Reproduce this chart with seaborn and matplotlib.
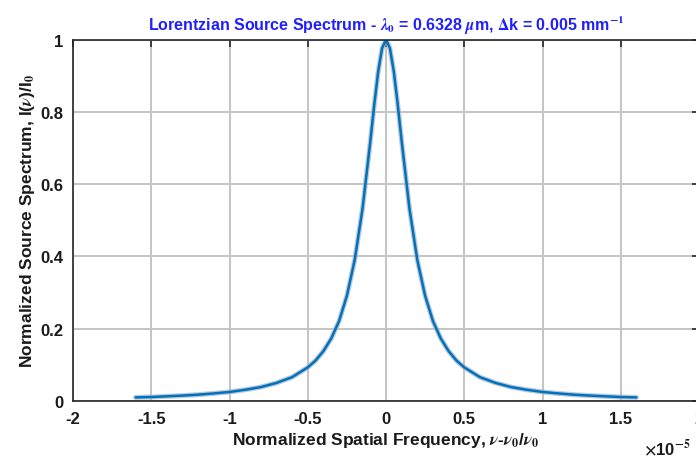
import numpy as np
import pandas as pd
import matplotlib
matplotlib.use("Agg")
import matplotlib.pyplot as plt
import matplotlib.patheffects as pe
import seaborn as sns

# normalized spatial frequency (units of 1e-5) and normalized spectrum
freq = [-1.6, -1.5, -1.4, -1.3, -1.2, -1.1, -1.0, -0.9, -0.8, -0.7, -0.6, -0.5,
        -0.45, -0.4, -0.35, -0.3, -0.25, -0.2, -0.15, -0.1, -0.075, -0.05, -0.025, 0.0,
        0.025, 0.05, 0.075, 0.1, 0.15, 0.2, 0.25, 0.3, 0.35, 0.4, 0.45,
        0.5, 0.6, 0.7, 0.8, 0.9, 1.0, 1.1, 1.2, 1.3, 1.4, 1.5, 1.6]
spectrum = [0.010, 0.011, 0.013, 0.015, 0.0175, 0.021, 0.025, 0.031, 0.0385, 0.050, 0.066, 0.093,
            0.112, 0.138, 0.173, 0.221, 0.291, 0.390, 0.532, 0.719, 0.820, 0.911, 0.976, 1.0,
            0.976, 0.911, 0.820, 0.719, 0.532, 0.390, 0.291, 0.221, 0.173, 0.138, 0.112,
            0.093, 0.066, 0.050, 0.0385, 0.031, 0.025, 0.021, 0.0175, 0.015, 0.013, 0.011, 0.010]

xticks = [-2, -1.5, -1, -0.5, 0, 0.5, 1, 1.5, 2]
xtick_labels = ["-2", "-1.5", "-1", "-0.5", "0", "0.5", "1", "1.5", "2"]
yticks = [0, 0.2, 0.4, 0.6, 0.8, 1]
ytick_labels = ["0", "0.2", "0.4", "0.6", "0.8", "1"]

df = pd.DataFrame({"freq": freq, "spectrum": spectrum})

sns.set_theme(style="whitegrid")
plt.rcParams["font.family"] = ["Liberation Sans", "DejaVu Sans"]
plt.rcParams["font.weight"] = "bold"
plt.rcParams["mathtext.fontset"] = "stix"

fig = plt.figure(figsize=(6.96, 4.60), dpi=100)
ax = fig.add_axes([73 / 696, 58 / 460, 626 / 696, 361.5 / 460])

sns.lineplot(data=df, x="freq", y="spectrum", ax=ax, color="#0072BD", linewidth=1.8,
             path_effects=[pe.Stroke(linewidth=3.6, foreground="#9fb3c8", alpha=0.7), pe.Normal()])

ax.set_xlim(-2, 2)
ax.set_ylim(0, 1)
ax.set_xticks(xticks)
ax.set_xticklabels(xtick_labels)
ax.set_yticks(yticks)
ax.set_yticklabels(ytick_labels)

ax.grid(True, color="#c4c4c4", linewidth=1.4)
for s in ax.spines.values():
    s.set_visible(True)
    s.set_color("#262626")
    s.set_linewidth(1.2)
ax.tick_params(axis="both", direction="in", length=5, width=1.2, color="#262626",
               labelsize=12, labelcolor="#1a1a1a", top=True, right=True, pad=7)
for lab in ax.get_xticklabels() + ax.get_yticklabels():
    lab.set_fontweight("bold")

ax.set_title(r"Lorentzian Source Spectrum - $\lambda_0$ = 0.6328 $\mu$m, $\Delta$k = 0.005 mm$^{-1}$",
             color="#1f1fff", fontsize=11.5, fontweight="bold", pad=7)
ax.set_xlabel(r"Normalized Spatial Frequency, $\nu$-$\nu_0$/$\nu_0$", fontsize=12.5,
              fontweight="bold", color="#1a1a1a", labelpad=3)
ax.set_ylabel(r"Normalized Source Spectrum, I($\nu$)/I$_0$", fontsize=12.5,
              fontweight="bold", color="#1a1a1a", labelpad=2)
ax.text(0.912, -0.1, r"$\times$10$^{-5}$", transform=ax.transAxes, fontsize=12,
        color="#1a1a1a", ha="left", va="top")

fig.savefig("out.png", dpi=100)
